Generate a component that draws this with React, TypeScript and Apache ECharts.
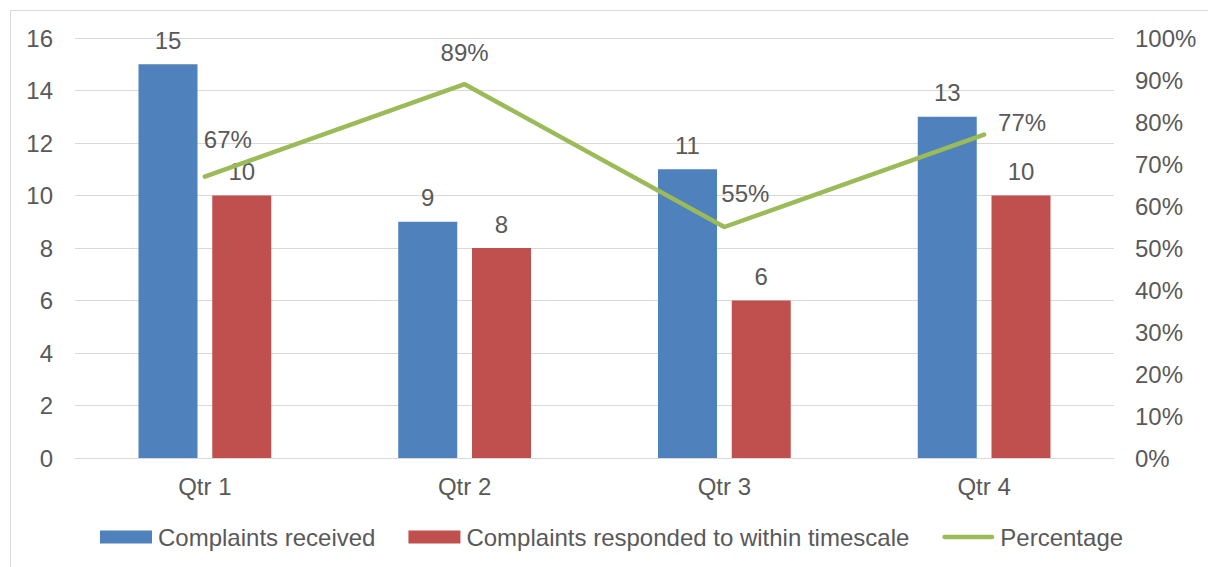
import React, { useEffect, useRef } from "react";
import * as echarts from "echarts";

const quarters = ["Qtr 1", "Qtr 2", "Qtr 3", "Qtr 4"];
const received = [15, 9, 11, 13];
const respondedInTime = [10, 8, 6, 10];
const percentage = [0.67, 0.89, 0.55, 0.77];
// label nudges for the percentage points [dx, dy]
const pctLabelOffsets = [
  [23, -20],
  [0, -14],
  [21, -16],
  [38, 5],
];

const FONT = '"Liberation Sans", Arial, sans-serif';
const TEXT = "#595959";
const GRID = "#D9D9D9";
const FS = 24;

// thick rounded stroke centred in a 13px-tall box for the line legend key
const LINE_KEY =
  "path://M0,0 M0,13 M2.5,4 L54.5,4 A2.5,2.5 0 0 1 54.5,9 L2.5,9 A2.5,2.5 0 0 1 2.5,4 Z";

export default function App() {
  const ref = useRef<HTMLDivElement>(null);

  useEffect(() => {
    if (!ref.current) return;
    const chart = echarts.init(ref.current, undefined, { renderer: "svg" });
    chart.setOption({
      animation: false,
      textStyle: { fontFamily: FONT, color: TEXT },
      graphic: [
        {
          type: "rect",
          shape: { x: 10.5, y: 10.5, width: 1400, height: 800 },
          style: { fill: "none", stroke: GRID, lineWidth: 1 },
          silent: true,
        },
      ],
      grid: { left: 75, right: 94, top: 38, bottom: 109 },
      legend: {
        left: 95,
        top: 520,
        itemWidth: 52,
        itemHeight: 13,
        itemGap: 33,
        textStyle: { fontFamily: FONT, fontSize: FS, color: TEXT, padding: [0, 0, 0, 1] },
        data: [
          { name: "Complaints received", icon: "rect" },
          { name: "Complaints responded to within timescale", icon: "rect" },
          { name: "Percentage", icon: LINE_KEY, itemStyle: { color: "#9BBB59" } },
        ],
      },
      xAxis: {
        type: "category",
        data: quarters,
        axisLine: { lineStyle: { color: GRID, width: 1 } },
        axisTick: { show: false },
        axisLabel: { fontFamily: FONT, fontSize: FS, color: TEXT, margin: 16 },
      },
      yAxis: [
        {
          type: "value",
          min: 0,
          max: 16,
          interval: 2,
          axisLine: { show: false },
          axisTick: { show: false },
          splitLine: { lineStyle: { color: GRID, width: 1 } },
          axisLabel: { fontFamily: FONT, fontSize: FS, color: TEXT, margin: 22 },
        },
        {
          type: "value",
          min: 0,
          max: 1,
          interval: 0.1,
          axisLine: { show: false },
          axisTick: { show: false },
          splitLine: { show: false },
          axisLabel: {
            fontFamily: FONT,
            fontSize: FS,
            color: TEXT,
            margin: 21,
            formatter: (v: number) => Math.round(v * 100) + "%",
          },
        },
      ],
      series: [
        {
          name: "Complaints received",
          type: "bar",
          data: received,
          barWidth: 59,
          barGap: "25%",
          itemStyle: { color: "#4F81BD" },
          label: {
            show: true,
            position: "top",
            distance: 12,
            fontFamily: FONT,
            fontSize: FS,
            color: TEXT,
          },
        },
        {
          name: "Complaints responded to within timescale",
          type: "bar",
          data: respondedInTime,
          barWidth: 59,
          barGap: "25%",
          itemStyle: { color: "#C0504D" },
          label: {
            show: true,
            position: "top",
            distance: 12,
            fontFamily: FONT,
            fontSize: FS,
            color: TEXT,
          },
        },
        {
          name: "Percentage",
          type: "line",
          yAxisIndex: 1,
          symbol: "circle",
          symbolSize: 1,
          itemStyle: { color: "#9BBB59" },
          lineStyle: { color: "#9BBB59", width: 4.5, cap: "round", join: "round" },
          data: percentage.map((v, i) => ({
            value: v,
            label: {
              show: true,
              position: "top",
              offset: pctLabelOffsets[i],
              fontFamily: FONT,
              fontSize: FS,
              color: TEXT,
              formatter: (p: any) => Math.round(p.value * 100) + "%",
            },
          })),
        },
      ],
    });
    return () => chart.dispose();
  }, []);

  return (
    <div
      ref={ref}
      style={{ position: "fixed", left: 0, top: 0, width: 1208, height: 567, background: "#fff" }}
    />
  );
}
